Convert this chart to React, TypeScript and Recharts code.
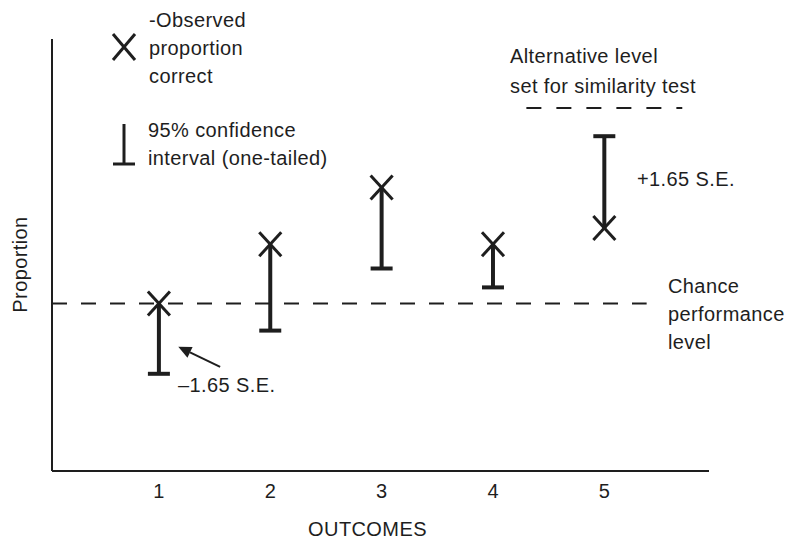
import React from 'react';
import { ComposedChart, Line, XAxis, YAxis, ReferenceLine } from 'recharts';

const outcomes = [1, 2, 3, 4, 5];
const observed = [0.51, 0.62, 0.725, 0.62, 0.65];
const bounds = [0.38, 0.46, 0.575, 0.54, 0.82];
const tickLabels = ['1', '2', '3', '4', '5'];
const chanceLevel = 0.51;
const alternativeLevel = 0.872;
const chanceSpan = [0.04, 5.38];
const alternativeSpan = [4.3, 5.7];
const arrowFrom = { x: 1.55, y: 0.393 };
const arrowTo = { x: 1.174, y: 0.43 };

const FONT = '"Liberation Sans", Arial, Helvetica, sans-serif';
const INK = '#1e1e1e';

const intervals = outcomes.map((o, i) => [
  { x: o, y: observed[i], kind: 'obs' },
  { x: o, y: bounds[i], kind: 'cap' },
]);

const Marker = (props: any) => {
  const { cx, cy, payload, index } = props;
  if (cx == null || cy == null) return <g key={index} />;
  if (payload.kind === 'obs') {
    return (
      <g key={index} stroke={INK} strokeWidth={3}>
        <line x1={cx - 11} y1={cy - 12} x2={cx + 11} y2={cy + 12} />
        <line x1={cx - 11} y1={cy + 12} x2={cx + 11} y2={cy - 12} />
      </g>
    );
  }
  return <line key={index} x1={cx - 11} y1={cy} x2={cx + 11} y2={cy} stroke={INK} strokeWidth={4} />;
};

const Arrow = (props: any) => {
  const { x1, y1, x2, y2 } = props;
  if (x1 == null) return null;
  const ang = Math.atan2(y2 - y1, x2 - x1);
  const len = 13;
  const half = 6;
  const bx = x2 - len * Math.cos(ang);
  const by = y2 - len * Math.sin(ang);
  const px = -Math.sin(ang) * half;
  const py = Math.cos(ang) * half;
  return (
    <g>
      <line x1={x1} y1={y1} x2={bx} y2={by} stroke={INK} strokeWidth={2} />
      <polygon points={`${x2},${y2} ${bx + px},${by + py} ${bx - px},${by - py}`} fill={INK} />
    </g>
  );
};

const txt = { fontFamily: FONT, fontSize: 20, fill: INK, letterSpacing: 0.4 } as const;

export default function App() {
  return (
    <div style={{ position: 'absolute', left: 0, top: 0, width: 788, height: 541, background: '#fff' }}>
      <ComposedChart width={788} height={541} margin={{ top: 39, right: 79, bottom: 40, left: 51 }}>
        <XAxis
          type="number"
          dataKey="x"
          domain={[0.04, 5.94]}
          ticks={outcomes}
          tickFormatter={(v: number) => tickLabels[outcomes.indexOf(v)]}
          tickLine={false}
          tickMargin={7}
          axisLine={{ stroke: INK, strokeWidth: 2 }}
          tick={{ fill: INK, fontSize: 20, fontFamily: FONT }}
          allowDataOverflow
        />
        <YAxis
          type="number"
          domain={[0.2, 1]}
          width={1}
          tick={false}
          tickLine={false}
          axisLine={{ stroke: INK, strokeWidth: 2 }}
          allowDataOverflow
        />
        <ReferenceLine
          segment={[{ x: chanceSpan[0], y: chanceLevel }, { x: chanceSpan[1], y: chanceLevel }]}
          stroke={INK}
          strokeWidth={2}
          strokeDasharray="15 14"
        />
        <ReferenceLine
          segment={[{ x: alternativeSpan[0], y: alternativeLevel }, { x: alternativeSpan[1], y: alternativeLevel }]}
          stroke={INK}
          strokeWidth={2}
          strokeDasharray="15 15"
        />
        <ReferenceLine segment={[arrowFrom, arrowTo]} shape={<Arrow />} />
        {intervals.map((d, i) => (
          <Line
            key={i}
            data={d}
            dataKey="y"
            type="linear"
            stroke={INK}
            strokeWidth={4}
            dot={<Marker />}
            activeDot={false}
            isAnimationActive={false}
          />
        ))}
      </ComposedChart>
      <svg width={788} height={541} style={{ position: 'absolute', left: 0, top: 0, pointerEvents: 'none' }}>
        <g stroke={INK} strokeWidth={3}>
          <line x1={113} y1={34} x2={135} y2={60} />
          <line x1={113} y1={60} x2={135} y2={34} />
        </g>
        <text x={149} y={27} {...txt}>-Observed</text>
        <text x={149} y={55} {...txt}>proportion</text>
        <text x={149} y={83} {...txt}>correct</text>
        <g stroke={INK} strokeWidth={3}>
          <line x1={124} y1={124} x2={124} y2={164} />
          <line x1={113} y1={164} x2={135} y2={164} />
        </g>
        <text x={148} y={137} {...txt}>95% confidence</text>
        <text x={148} y={165} {...txt}>interval (one-tailed)</text>
        <text x={510} y={63} {...txt}>Alternative level</text>
        <text x={510} y={93} {...txt}>set for similarity test</text>
        <text x={637} y={186} {...txt}>+1.65 S.E.</text>
        <text x={178} y={392} {...txt}>–1.65 S.E.</text>
        <text x={668} y={293} {...txt}>Chance</text>
        <text x={668} y={321} {...txt}>performance</text>
        <text x={668} y={349} {...txt}>level</text>
        <text x={27} y={264.5} textAnchor="middle" transform="rotate(-90 27 264.5)" {...txt}>Proportion</text>
        <text x={367.5} y={536} textAnchor="middle" {...txt}>OUTCOMES</text>
      </svg>
    </div>
  );
}
